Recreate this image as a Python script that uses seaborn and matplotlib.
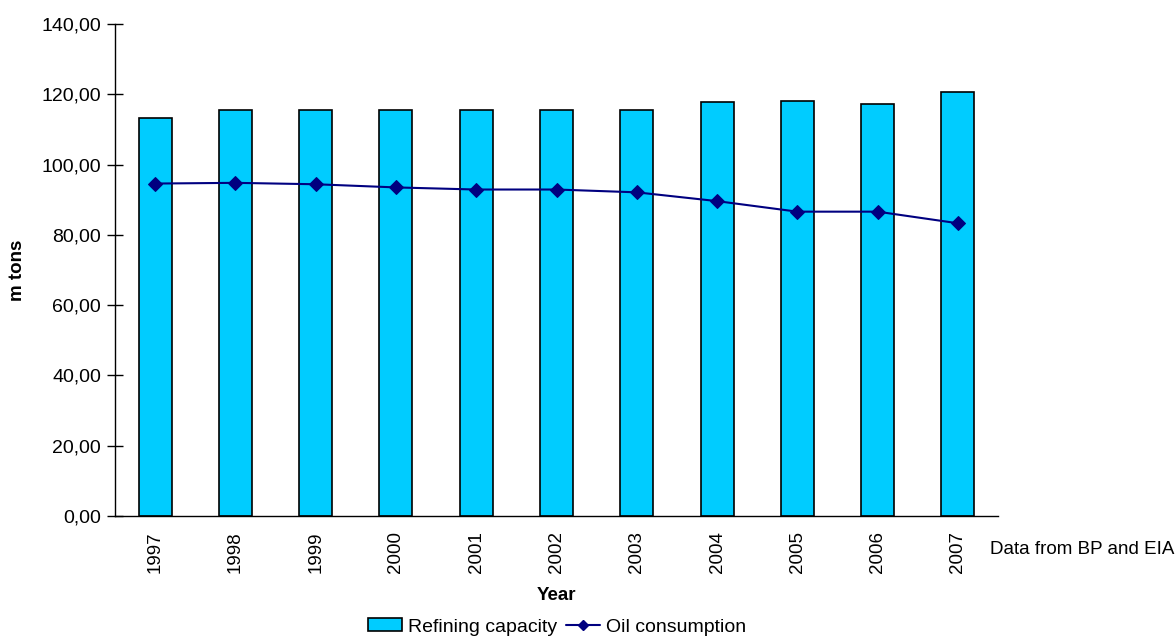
import numpy as np
import pandas as pd
import matplotlib
matplotlib.use("Agg")
import matplotlib.pyplot as plt
from matplotlib.lines import Line2D
from matplotlib.patches import Patch
from matplotlib.ticker import FuncFormatter, MultipleLocator
import seaborn as sns

years = ["1997", "1998", "1999", "2000", "2001", "2002", "2003", "2004", "2005", "2006", "2007"]
refining_capacity = [113.2, 115.5, 115.5, 115.5, 115.5, 115.5, 115.5, 117.8, 118.1, 117.1, 120.7]
oil_consumption = [94.6, 94.8, 94.4, 93.5, 92.9, 92.9, 92.1, 89.6, 86.6, 86.6, 83.3]

sns.set_style("white")
plt.rcParams["font.family"] = ["Liberation Sans", "DejaVu Sans"]
plt.rcParams.update({
    "text.color": "black",
    "axes.labelcolor": "black",
    "xtick.color": "black",
    "ytick.color": "black",
})

bar_color = "#00CCFF"
line_color = "#000080"

fig = plt.figure(figsize=(11.75, 6.37), dpi=100)
ax = fig.add_axes([115 / 1175, 1 - 516 / 637, (998 - 115) / 1175, (516 - 24) / 637])

df = pd.DataFrame({"Year": years, "Refining": refining_capacity, "Oil": oil_consumption})

sns.barplot(data=df, x="Year", y="Refining", color=bar_color, edgecolor="black",
            linewidth=1.2, width=0.41, saturation=1, ax=ax)
sns.lineplot(x=np.arange(len(years)), y=df["Oil"], color=line_color, marker="D",
             markersize=7, markeredgecolor=line_color, linewidth=1.5, ax=ax)

ax.set_xlim(-0.5, len(years) - 0.5)
ax.set_ylim(0, 140)
ax.yaxis.set_major_locator(MultipleLocator(20))
ax.yaxis.set_major_formatter(FuncFormatter(lambda v, p: f"{v:.2f}".replace(".", ",")))

for s in ["top", "right"]:
    ax.spines[s].set_visible(False)
for s in ["left", "bottom"]:
    ax.spines[s].set_color("black")
    ax.spines[s].set_linewidth(1.0)

ax.tick_params(axis="y", direction="inout", length=12, width=1, colors="black",
               labelsize=14, pad=4, left=True)
ax.tick_params(axis="x", length=0, labelsize=13.5, pad=11, labelrotation=90,
               colors="black")

ax.set_xlabel("Year", fontsize=13.5, fontweight="bold")
ax.set_ylabel("m tons", fontsize=13.5, fontweight="bold")
ax.xaxis.set_label_coords(0.5, (516 - 596) / 492, transform=ax.transAxes)
ax.yaxis.set_label_coords((18 - 115) / 883, 0.5, transform=ax.transAxes)
ax.xaxis.label.set_va("center")
ax.yaxis.label.set_va("center")

fig.text(990 / 1175, 1 - 550 / 637, "Data from BP and EIA", fontsize=13.5,
         ha="left", va="center")

handles = [
    Patch(facecolor=bar_color, edgecolor="black", linewidth=1.2, label="Refining capacity"),
    Line2D([0], [0], color=line_color, marker="D", markersize=5, linewidth=1.5,
           label="Oil consumption"),
]
fig.legend(handles=handles, loc="center", bbox_to_anchor=(557 / 1175, 1 - 627 / 637),
           ncol=2, frameon=False, fontsize=14, handlelength=1.75, handletextpad=0.3,
           columnspacing=0.5, handleheight=0.6, borderpad=0.1)

fig.savefig("out.png", dpi=100)
